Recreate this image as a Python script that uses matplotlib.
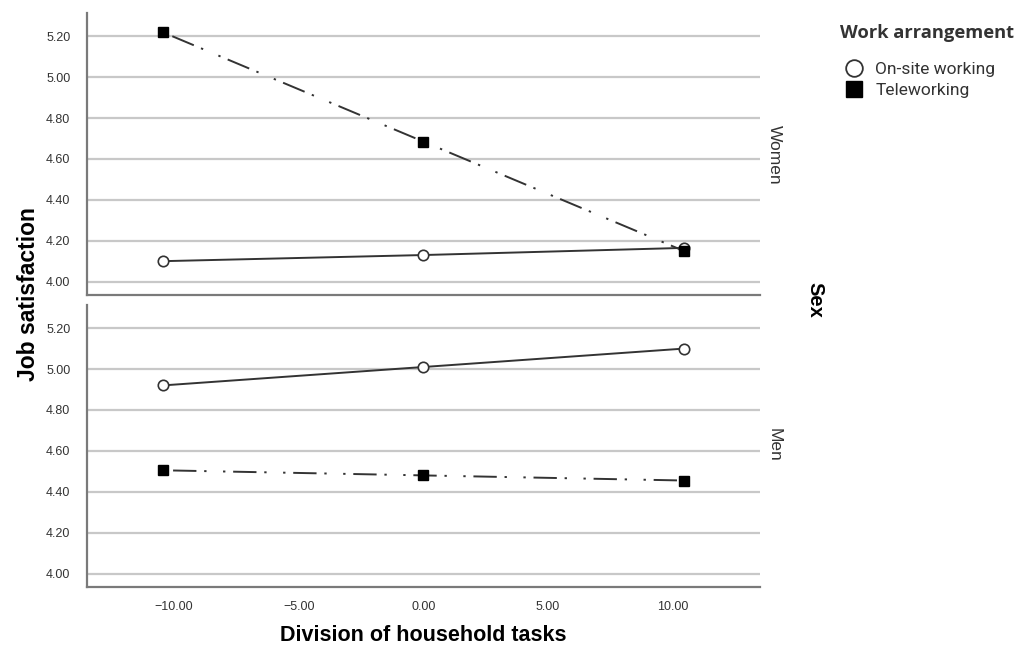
import matplotlib.pyplot as plt
from matplotlib.lines import Line2D

# Valores (médias estimadas)
divisao_tarefas = [-10.45, 0.0, 10.45]
paineis = ["Women", "Men"]
onsite = {"Women": [4.10, 4.13, 4.165], "Men": [4.92, 5.01, 5.10]}
tele = {"Women": [5.22, 4.685, 4.15], "Men": [4.505, 4.48, 4.455]}
yticks = [4.00, 4.20, 4.40, 4.60, 4.80, 5.00, 5.20]
xticks = [-10, -5, 0, 5, 10]

plt.rcParams['font.family'] = ['Liberation Sans', 'DejaVu Sans']

fig = plt.figure(figsize=(10.29, 6.49), dpi=100)
ax_top = fig.add_axes([0.0845, 0.545, 0.654, 0.4345])
ax_bot = fig.add_axes([0.0845, 0.0951, 0.654, 0.4349])

cor_linha = '#333333'
cor_grade = '#c8c8c8'
cor_eixo = '#7a7a7a'
traco_ponto = (0, (1.2, 4.0, 12, 4.0, 1.2, 8.5))

for ax, sexo in zip([ax_top, ax_bot], paineis):
    ax.set_xlim(-13.5, 13.5)
    ax.set_ylim(3.933, 5.313)
    ax.set_yticks(yticks)
    ax.set_yticklabels([f"{v:.2f}" for v in yticks], fontsize=9, color='#333333')
    ax.set_xticks(xticks)
    for v in yticks:
        ax.axhline(v, color=cor_grade, lw=1.6, zorder=0)
    ax.plot(divisao_tarefas, onsite[sexo], color=cor_linha, lw=1.4, marker='o',
            markersize=7.5, markerfacecolor='white', markeredgecolor=cor_linha,
            markeredgewidth=1.2, zorder=3)
    ax.plot(divisao_tarefas, tele[sexo], color=cor_linha, lw=1.4, linestyle=traco_ponto,
            marker='s', markersize=7.5, markerfacecolor='black', markeredgecolor='black',
            zorder=4)
    for lado in ['top', 'right']:
        ax.spines[lado].set_visible(False)
    for lado in ['left', 'bottom']:
        ax.spines[lado].set_color(cor_eixo)
        ax.spines[lado].set_linewidth(1.6)
    ax.tick_params(length=0, pad=12)

ax_top.tick_params(axis='x', labelbottom=False)
ax_bot.set_xticklabels([f"{v:.2f}".replace('-', '\u2212') for v in xticks],
                       fontsize=9, color='#333333')
ax_bot.tick_params(axis='x', pad=10)

fig.text(0.7525, 0.761, "Women", rotation=-90, ha='center', va='center', fontsize=12.5, color='#333333')
fig.text(0.7525, 0.314, "Men", rotation=-90, ha='center', va='center', fontsize=12.5, color='#333333')
fig.text(0.792, 0.538, "Sex", rotation=-90, ha='center', va='center', fontsize=14.5, fontweight='bold')
fig.text(0.028, 0.547, "Job satisfaction", rotation=90, ha='center', va='center', fontsize=16.5, fontweight='bold')
fig.text(0.411, 0.0205, "Division of household tasks", ha='center', va='center', fontsize=15.5, fontweight='bold')

handles = [
    Line2D([], [], linestyle='none', marker='o', markersize=12, markerfacecolor='white',
           markeredgecolor='#333333', markeredgewidth=1.3, label='On-site working'),
    Line2D([], [], linestyle='none', marker='s', markersize=12, markerfacecolor='black',
           markeredgecolor='black', label='Teleworking'),
]
leg = fig.legend(handles=handles, loc='upper left', bbox_to_anchor=(0.805, 0.981),
                 frameon=False, prop={'family': 'Roboto', 'size': 12.5},
                 title="Work arrangement", handlelength=1.6, handletextpad=0.4,
                 labelspacing=0.35, borderaxespad=0.3,
                 title_fontproperties={'family': 'Open Sans', 'weight': 'bold', 'size': 13.2})
leg._legend_box.align = 'left'
leg._legend_box.sep = 14
for t in leg.get_texts():
    t.set_color('#333333')
leg.get_title().set_color('#333333')

fig.savefig('out.png', dpi=100)
